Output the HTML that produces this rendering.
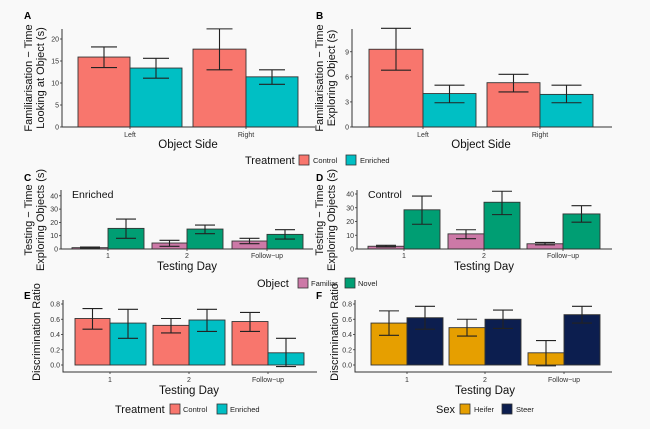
<!DOCTYPE html>
<html><head><meta charset="utf-8"><style>
html,body{margin:0;padding:0;background:#f9f9f9;}
svg{display:block;font-family:"Liberation Sans",Arial,sans-serif;}
.t{font-size:7px;fill:#333}
.at{font-size:11.5px;fill:#111}
.yt{font-size:11px;fill:#111}
.pl{font-size:10px;font-weight:bold;fill:#000}
.lg{font-size:7.5px;fill:#222}
.lt{font-size:11px;fill:#111}
</style></head><body>
<svg id="s" width="650" height="429" viewBox="0 0 650 429" xmlns="http://www.w3.org/2000/svg">
<rect width="650" height="429" fill="#f9f9f9"/>
<g id="g"></g>
<!-- panel letters -->
<text class="pl" x="24" y="19">A</text>
<text class="pl" x="316" y="19">B</text>
<text class="pl" x="24" y="181">C</text>
<text class="pl" x="316" y="181">D</text>
<text class="pl" x="24" y="299">E</text>
<text class="pl" x="316" y="299">F</text>
<!-- A labels -->
<text class="yt" transform="translate(32,78) rotate(-90)" text-anchor="middle">Familiarisation − Time</text>
<text class="yt" transform="translate(44,78) rotate(-90)" text-anchor="middle">Looking at Object (s)</text>
<text class="t" x="130" y="137" text-anchor="middle">Left</text>
<text class="t" x="246" y="137" text-anchor="middle">Right</text>
<text class="at" x="188" y="148" text-anchor="middle">Object Side</text>
<!-- B labels -->
<text class="yt" transform="translate(323,78) rotate(-90)" text-anchor="middle">Familiarisation − Time</text>
<text class="yt" transform="translate(335,78) rotate(-90)" text-anchor="middle">Exploring Object (s)</text>
<text class="t" x="423" y="137" text-anchor="middle">Left</text>
<text class="t" x="540" y="137" text-anchor="middle">Right</text>
<text class="at" x="481" y="148" text-anchor="middle">Object Side</text>
<!-- legend 1 -->
<text class="lt" x="245" y="164">Treatment</text>
<rect x="299" y="155" width="10" height="10" fill="#f8766d" stroke="#333" stroke-width="0.8"/>
<text class="lg" x="313" y="163">Control</text>
<rect x="346" y="155" width="10" height="10" fill="#00bfc4" stroke="#333" stroke-width="0.8"/>
<text class="lg" x="360" y="163">Enriched</text>
<!-- C labels -->
<text class="yt" transform="translate(32,220) rotate(-90)" text-anchor="middle">Testing − Time</text>
<text class="yt" transform="translate(44,220) rotate(-90)" text-anchor="middle">Exploring Objects (s)</text>
<text x="72" y="198" font-size="10.5" fill="#111">Enriched</text>
<text class="t" x="108" y="258" text-anchor="middle">1</text>
<text class="t" x="187" y="258" text-anchor="middle">2</text>
<text class="t" x="267" y="258" text-anchor="middle">Follow−up</text>
<text class="at" x="187" y="270" text-anchor="middle">Testing Day</text>
<!-- D labels -->
<text class="yt" transform="translate(323,220) rotate(-90)" text-anchor="middle">Testing − Time</text>
<text class="yt" transform="translate(335,220) rotate(-90)" text-anchor="middle">Exploring Objects (s)</text>
<text x="368" y="198" font-size="10.5" fill="#111">Control</text>
<text class="t" x="404" y="258" text-anchor="middle">1</text>
<text class="t" x="484" y="258" text-anchor="middle">2</text>
<text class="t" x="563" y="258" text-anchor="middle">Follow−up</text>
<text class="at" x="484" y="270" text-anchor="middle">Testing Day</text>
<!-- legend 2 -->
<text class="lt" x="257" y="287">Object</text>
<rect x="298" y="278" width="10" height="10" fill="#cc79a7" stroke="#333" stroke-width="0.8"/>
<text class="lg" x="311" y="286">Familiar</text>
<rect x="345" y="278" width="10" height="10" fill="#009e73" stroke="#333" stroke-width="0.8"/>
<text class="lg" x="358" y="286">Novel</text>
<!-- E labels -->
<text class="yt" transform="translate(40,332) rotate(-90)" text-anchor="middle">Discrimination Ratio</text>
<text class="t" x="110" y="382" text-anchor="middle">1</text>
<text class="t" x="189" y="382" text-anchor="middle">2</text>
<text class="t" x="268" y="382" text-anchor="middle">Follow−up</text>
<text class="at" x="189" y="394" text-anchor="middle">Testing Day</text>
<text class="lt" x="115" y="413">Treatment</text>
<rect x="170" y="404" width="10" height="10" fill="#f8766d" stroke="#333" stroke-width="0.8"/>
<text class="lg" x="183" y="412">Control</text>
<rect x="217" y="404" width="10" height="10" fill="#00bfc4" stroke="#333" stroke-width="0.8"/>
<text class="lg" x="230" y="412">Enriched</text>
<!-- F labels -->
<text class="yt" transform="translate(338,332) rotate(-90)" text-anchor="middle">Discrimination Ratio</text>
<text class="t" x="407" y="382" text-anchor="middle">1</text>
<text class="t" x="485" y="382" text-anchor="middle">2</text>
<text class="t" x="564" y="382" text-anchor="middle">Follow−up</text>
<text class="at" x="485" y="394" text-anchor="middle">Testing Day</text>
<text class="lt" x="436" y="413">Sex</text>
<rect x="460" y="404" width="10" height="10" fill="#e69f00" stroke="#333" stroke-width="0.8"/>
<text class="lg" x="474" y="412">Heifer</text>
<rect x="502" y="404" width="10" height="10" fill="#0c1e4f" stroke="#333" stroke-width="0.8"/>
<text class="lg" x="516" y="412">Steer</text>
</svg>
<script>
var NS="http://www.w3.org/2000/svg",G=document.getElementById("g");
function el(t,a){var e=document.createElementNS(NS,t);for(var k in a)e.setAttribute(k,a[k]);G.appendChild(e);return e;}
function panel(p){
  var Y=function(v){return p.y0-v*p.s;};
  p.bars.forEach(function(b){
    el("rect",{x:b[0],y:Y(b[2]),width:b[1]-b[0],height:p.y0-Y(b[2]),fill:b[5],stroke:"#333","stroke-width":0.9});
  });
  p.bars.forEach(function(b){
    var c=(b[0]+b[1])/2,w=p.w/2;
    el("path",{d:"M"+(c-w)+","+Y(b[4])+"H"+(c+w)+"M"+c+","+Y(b[4])+"V"+Y(b[3])+"M"+(c-w)+","+Y(b[3])+"H"+(c+w),stroke:"#222","stroke-width":1.1,fill:"none"});
  });
  el("path",{d:"M"+p.ax+","+p.top+"V"+p.ay+"H"+p.end,stroke:"#333","stroke-width":1,fill:"none"});
  p.ticks.forEach(function(t){
    var y=Y(t[0]);
    el("path",{d:"M"+(p.ax-2)+","+y+"H"+p.ax,stroke:"#333","stroke-width":0.8});
    var tx=el("text",{x:p.ax-3,y:y+2.5,"text-anchor":"end","class":"t"});tx.textContent=t[1];
  });
  p.xt.forEach(function(x){el("path",{d:"M"+x+","+p.ay+"V"+(p.ay+2),stroke:"#333","stroke-width":0.8});});
}
var C="#f8766d",E="#00bfc4",F="#cc79a7",N="#009e73",H="#e69f00",S="#0c1e4f";
panel({ax:62,y0:127,ay:127,s:4.4,top:29,end:315,w:26,xt:[130,246],
 ticks:[[0,"0"],[5,"5"],[10,"10"],[15,"15"],[20,"20"]],
 bars:[[78,130,15.9,13.5,18.2,C],[130,182,13.4,11.1,15.6,E],[193,246,17.7,13,22.3,C],[246,298,11.4,9.7,13,E]]});
panel({ax:352,y0:127,ay:127,s:8.36,top:29,end:612,w:30,xt:[423,540],
 ticks:[[0,"0"],[3,"3"],[6,"6"],[9,"9"]],
 bars:[[369,423,9.3,6.8,11.8,C],[423,476,4.0,2.9,5.0,E],[487,540,5.3,4.2,6.3,C],[540,593,3.9,2.9,5.0,E]]});
panel({ax:61,y0:249,ay:249,s:1.33,top:190,end:313,w:20,xt:[108,187,267],
 ticks:[[0,"0"],[10,"10"],[20,"20"],[30,"30"],[40,"40"]],
 bars:[[72,108,1,0.5,1.5,F],[108,144,15.5,8,22.5,N],[152,187,4.5,2,6.5,F],[187,223,15,11.5,18,N],[232,267,6,4,8,F],[267,303,11,7.5,14.5,N]]});
panel({ax:357,y0:249,ay:249,s:1.375,top:190,end:612,w:20,xt:[404,484,563],
 ticks:[[0,"0"],[10,"10"],[20,"20"],[30,"30"],[40,"40"]],
 bars:[[368,404,2,1.5,2.7,F],[404,440,28.5,18,38.5,N],[448,484,11,7.5,14,F],[484,520,34,25,42,N],[527,563,3.8,3,4.8,F],[563,600,25.5,19.5,31.5,N]]});
var rt=[[0,"0.0"],[0.2,"0.2"],[0.4,"0.4"],[0.6,"0.6"],[0.8,"0.8"]];
panel({ax:63,y0:365,ay:372,s:76.25,top:300,end:317,w:20,xt:[110,189,268],ticks:rt,
 bars:[[75,110,0.61,0.47,0.74,C],[110,146,0.55,0.35,0.73,E],[153,189,0.52,0.42,0.61,C],[189,225,0.59,0.44,0.73,E],[232,268,0.57,0.44,0.69,C],[268,304,0.16,-0.02,0.35,E]]});
panel({ax:355,y0:365,ay:372,s:76.25,top:300,end:612,w:20,xt:[407,485,564],ticks:rt,
 bars:[[371,407,0.55,0.39,0.71,H],[407,443,0.62,0.47,0.77,S],[449,485,0.49,0.38,0.60,H],[485,521,0.60,0.48,0.72,S],[528,564,0.16,-0.01,0.32,H],[564,600,0.66,0.55,0.77,S]]});
</script>
</body></html>
